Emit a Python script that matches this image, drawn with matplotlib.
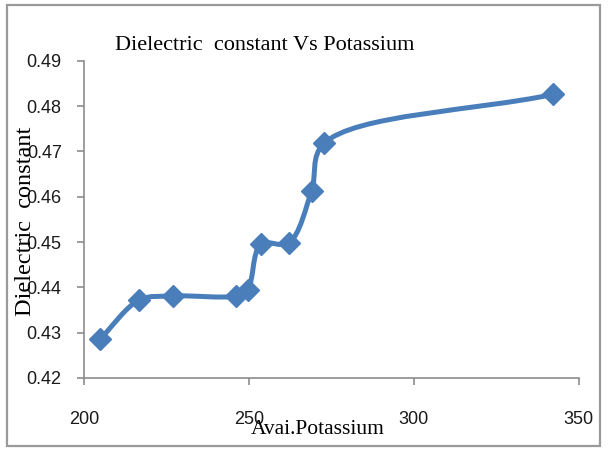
import numpy as np
import matplotlib.pyplot as plt
from matplotlib.path import Path
from matplotlib.patches import PathPatch, Rectangle

# Avai. potassium vs dielectric constant
potassium = [204.8, 216.8, 226.9, 246.1, 249.6, 253.6, 262.1, 269.0, 272.8, 342.2]
dielectric = [0.4285, 0.4372, 0.4381, 0.4381, 0.4394, 0.4495, 0.4498, 0.4613, 0.4718, 0.4826]

x_ticks = [200, 250, 300, 350]
y_ticks = [0.42, 0.43, 0.44, 0.45, 0.46, 0.47, 0.48, 0.49]

blue = '#4A7EBB'
grey = '#8C8C8C'


def smooth_path(ax, xs, ys):
    # centripetal Catmull-Rom through the points, built as Bezier pieces in pixel space
    pts = ax.transData.transform(np.column_stack([xs, ys]))
    ext = np.vstack([2 * pts[0] - pts[1], pts, 2 * pts[-1] - pts[-2]])
    verts = [pts[0]]
    codes = [Path.MOVETO]
    for i in range(1, len(ext) - 2):
        p0, p1, p2, p3 = ext[i - 1], ext[i], ext[i + 1], ext[i + 2]
        d1 = np.linalg.norm(p1 - p0) ** 0.5
        d2 = np.linalg.norm(p2 - p1) ** 0.5
        d3 = np.linalg.norm(p3 - p2) ** 0.5
        b1 = (d1 ** 2 * p2 - d2 ** 2 * p0 + (2 * d1 ** 2 + 3 * d1 * d2 + d2 ** 2) * p1) / (3 * d1 * (d1 + d2))
        b2 = (d3 ** 2 * p1 - d2 ** 2 * p3 + (2 * d3 ** 2 + 3 * d3 * d2 + d2 ** 2) * p2) / (3 * d3 * (d3 + d2))
        verts += [b1, b2, p2]
        codes += [Path.CURVE4] * 3
    verts = ax.transData.inverted().transform(np.array(verts))
    return Path(verts, codes)


fig = plt.figure(figsize=(6.08, 4.51), dpi=100)
ax = fig.add_axes([0.138, 0.162, 0.814, 0.703])

ax.set_xlim(200, 350)
ax.set_ylim(0.42, 0.49)

ax.add_patch(PathPatch(smooth_path(ax, potassium, dielectric), fill=False,
                       edgecolor=blue, linewidth=3.6, capstyle='round'))
ax.plot(potassium, dielectric, linestyle='none', marker='D', markersize=11.5,
        color=blue, markeredgecolor=blue)

ax.set_xticks(x_ticks)
ax.set_yticks(y_ticks)
ax.set_xticklabels([str(v) for v in x_ticks])
ax.set_yticklabels(['%.2f' % v for v in y_ticks])

for side in ['top', 'right']:
    ax.spines[side].set_visible(False)
for side in ['left', 'bottom']:
    ax.spines[side].set_color(grey)
    ax.spines[side].set_linewidth(1.2)

ax.tick_params(axis='both', direction='out', color=grey, width=1.2, length=5,
               labelsize=13, labelcolor='#1a1a1a')
ax.tick_params(axis='x', pad=19)
ax.tick_params(axis='y', pad=11)
for lbl in ax.get_xticklabels() + ax.get_yticklabels():
    lbl.set_family('Liberation Sans')

serif = 'Liberation Serif'
fig.text(265 / 608, 1 - 46 / 451, 'Dielectric  constant Vs Potassium',
         family=serif, fontsize=16, ha='center', va='center')
fig.text(26 / 608, 1 - 221.5 / 451, 'Dielectric  constant', family=serif,
         fontsize=17.5, rotation=90, ha='center', va='center')
fig.text(318 / 608, 1 - 430 / 451, 'Avai.Potassium', family=serif,
         fontsize=15.5, ha='center', va='center')

# outer chart frame
fig.patches.append(Rectangle((7 / 608, 1 - 446 / 451), 593 / 608, 441 / 451,
                             transform=fig.transFigure, fill=False,
                             edgecolor='#9A9A9A', linewidth=1.6))

fig.savefig('out.png', dpi=100)
